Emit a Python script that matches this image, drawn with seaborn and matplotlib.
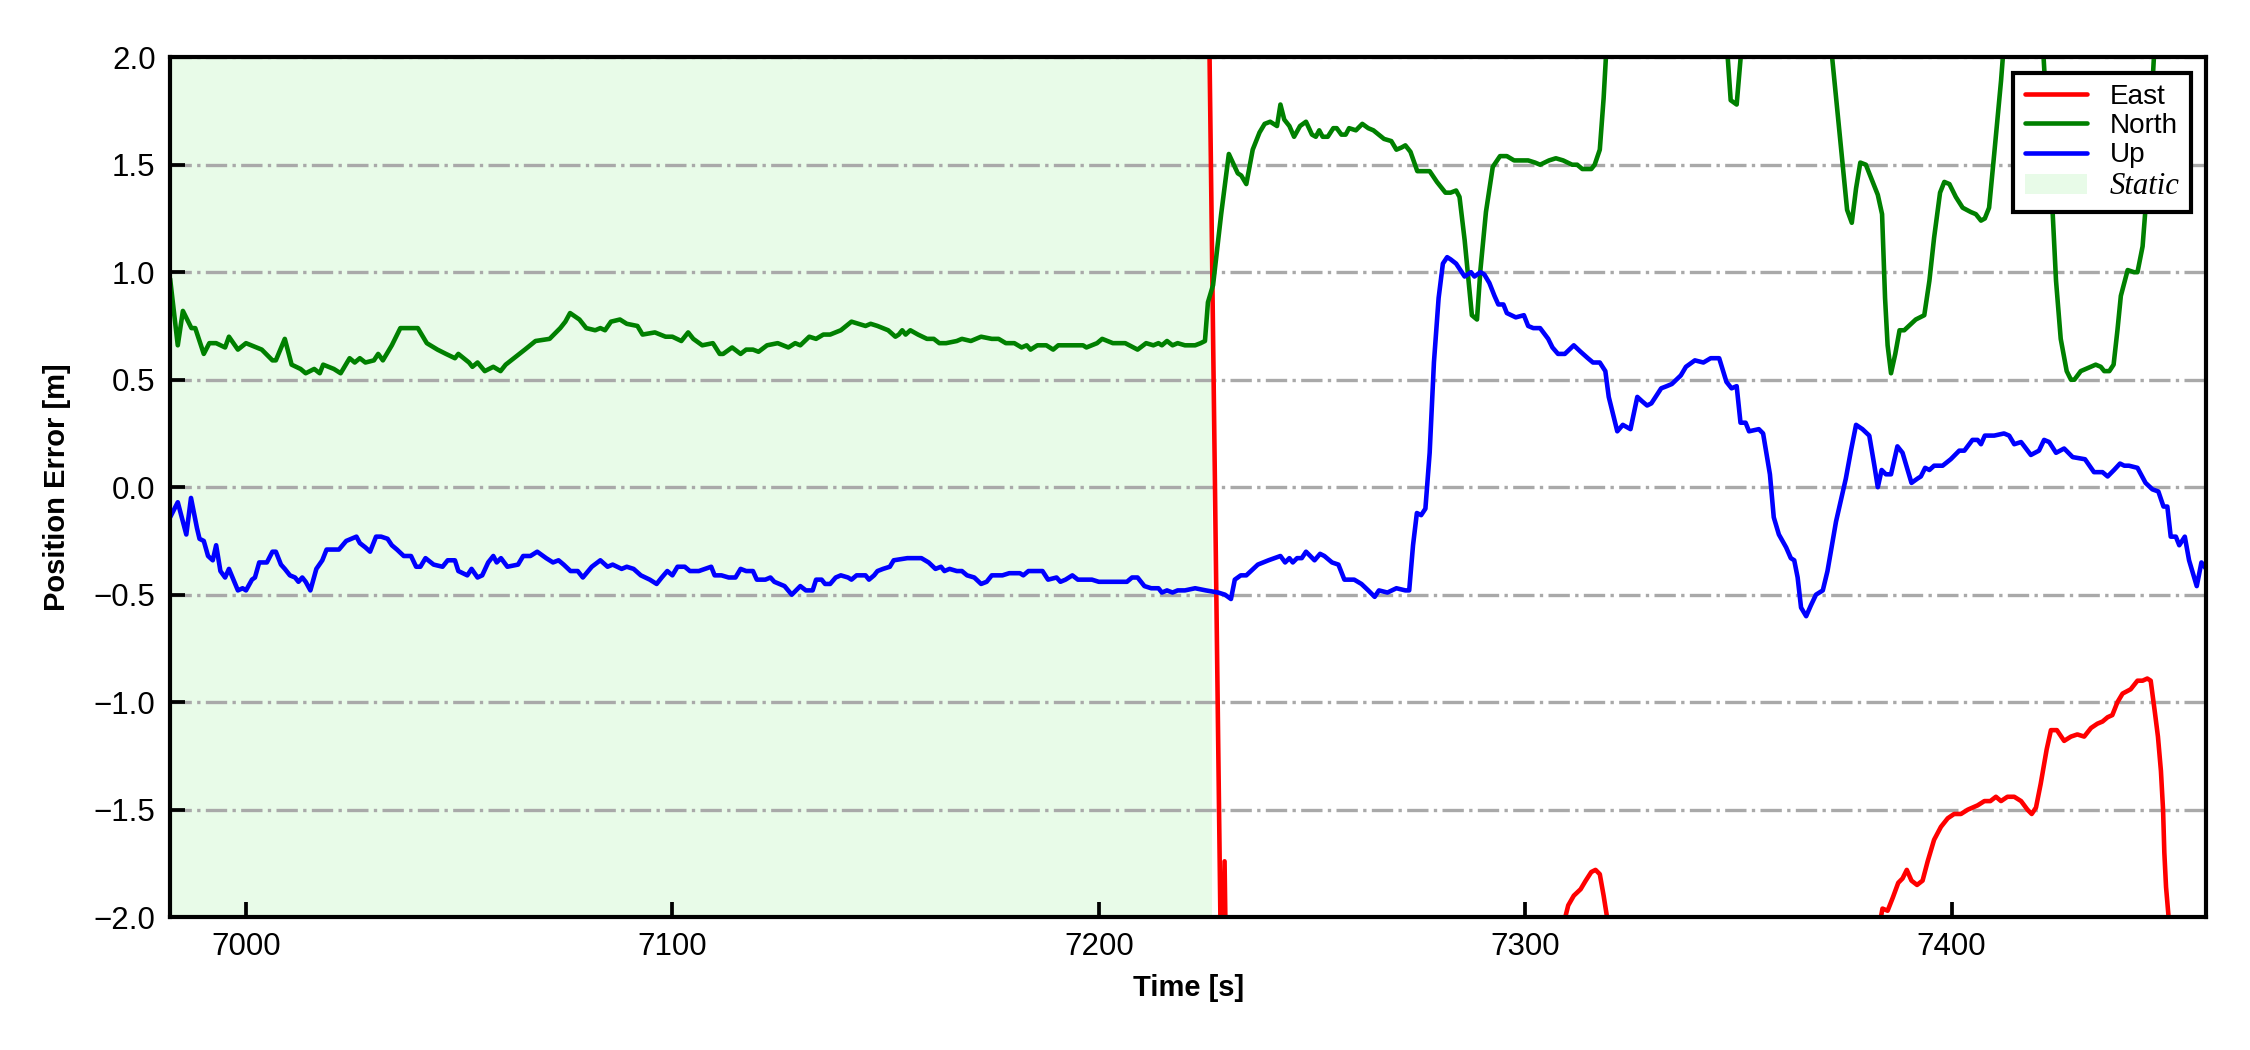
import numpy as np
import pandas as pd
import matplotlib
matplotlib.use("Agg")
import matplotlib.pyplot as plt
import seaborn as sns
from matplotlib.lines import Line2D
from matplotlib.patches import Patch

# ---------------- data (time [s], error [m]) ----------------
series_names = ["East", "North", "Up"]
series_colors = ["red", "green", "blue"]
static_label = "Static"
static_span = (6980.0, 7226.5)
x_limits = (6982.2, 7459.7)
y_limits = (-2.0, 2.0)
x_ticks = [7000, 7100, 7200, 7300, 7400]
y_ticks = [-2.0, -1.5, -1.0, -0.5, 0.0, 0.5, 1.0, 1.5, 2.0]

east_pts = [
    (6982.2, 2.6), (7225.6, 2.6), (7228.9, -2.6), (7229.5, -1.74), (7230.1, -2.6),
    (7307.5, -2.15), (7310.1, -1.945), (7311.4, -1.90), (7313.0, -1.87), (7314.2, -1.83),
    (7315.5, -1.79), (7316.5, -1.78), (7317.5, -1.80), (7318.4, -1.90), (7319.2, -2.0),
    (7320.5, -2.6), (7381.0, -2.6), (7382.5, -2.1), (7383.8, -1.96), (7385.0, -1.97),
    (7386.2, -1.91), (7387.5, -1.84), (7388.5, -1.82), (7389.5, -1.78), (7390.6, -1.83),
    (7391.9, -1.85), (7393.2, -1.83), (7394.4, -1.74), (7395.9, -1.64), (7397.5, -1.58),
    (7399.1, -1.54), (7400.6, -1.52), (7402.2, -1.52), (7403.8, -1.50), (7406.1, -1.48),
    (7407.7, -1.46), (7409.1, -1.46), (7410.4, -1.44), (7411.6, -1.46), (7413.1, -1.44),
    (7414.7, -1.44), (7416.3, -1.46), (7417.8, -1.50), (7418.8, -1.52), (7419.8, -1.49),
    (7420.9, -1.38), (7422.3, -1.22), (7423.3, -1.13), (7424.7, -1.13), (7426.4, -1.18),
    (7428.0, -1.16), (7429.5, -1.15), (7431.1, -1.16), (7432.7, -1.12), (7434.2, -1.10),
    (7435.4, -1.09), (7436.6, -1.07), (7437.7, -1.06), (7438.9, -1.00), (7440.1, -0.96),
    (7442.0, -0.94), (7443.6, -0.90), (7444.8, -0.90), (7445.9, -0.89), (7446.7, -0.90),
    (7447.7, -1.05), (7448.4, -1.16), (7449.1, -1.32), (7449.6, -1.50), (7449.9, -1.70),
    (7450.3, -1.86), (7450.9, -2.0), (7451.5, -2.5), (7459.7, -2.5),
]

north_pts = [
    (6982.2, 0.97), (6984.0, 0.66), (6985.2, 0.82), (6987.2, 0.74), (6988.1, 0.74),
    (6990.1, 0.62), (6991.4, 0.67), (6993.0, 0.67), (6995.1, 0.65), (6996.0, 0.70),
    (6998.1, 0.64), (7000.0, 0.67), (7003.7, 0.64), (7006.2, 0.59), (7007.0, 0.59),
    (7009.1, 0.69), (7010.7, 0.57), (7012.8, 0.55), (7014.0, 0.53), (7016.0, 0.55),
    (7017.3, 0.53), (7018.1, 0.57), (7020.6, 0.55), (7022.2, 0.53), (7024.3, 0.60),
    (7025.5, 0.58), (7026.7, 0.60), (7028.0, 0.58), (7030.0, 0.59), (7031.0, 0.62),
    (7032.1, 0.59), (7034.2, 0.66), (7036.2, 0.74), (7038.3, 0.74), (7040.3, 0.74),
    (7042.4, 0.67), (7044.9, 0.64), (7046.9, 0.62), (7049.0, 0.60), (7049.8, 0.62),
    (7052.3, 0.58), (7053.1, 0.56), (7054.3, 0.58), (7056.0, 0.54), (7058.0, 0.56),
    (7059.7, 0.54), (7060.9, 0.57), (7065.4, 0.64), (7067.9, 0.68), (7071.2, 0.69),
    (7073.7, 0.74), (7074.9, 0.77), (7076.0, 0.81), (7078.2, 0.78), (7079.8, 0.74),
    (7081.9, 0.73), (7083.1, 0.74), (7084.2, 0.73), (7085.6, 0.77), (7087.7, 0.78),
    (7089.3, 0.76), (7091.8, 0.75), (7093.0, 0.71), (7095.9, 0.72), (7098.4, 0.70),
    (7100.0, 0.70), (7102.1, 0.68), (7103.7, 0.72), (7104.9, 0.69), (7107.0, 0.66),
    (7109.5, 0.67), (7111.1, 0.62), (7111.9, 0.62), (7114.0, 0.65), (7116.0, 0.62),
    (7117.3, 0.64), (7118.9, 0.64), (7120.2, 0.63), (7122.2, 0.66), (7124.7, 0.67),
    (7127.2, 0.65), (7128.8, 0.67), (7130.0, 0.66), (7132.1, 0.70), (7133.7, 0.69),
    (7135.4, 0.71), (7137.0, 0.71), (7139.5, 0.73), (7142.0, 0.77), (7145.3, 0.75),
    (7146.5, 0.76), (7148.1, 0.75), (7150.6, 0.73), (7152.3, 0.70), (7153.1, 0.71),
    (7153.9, 0.73), (7154.7, 0.71), (7155.8, 0.73), (7157.6, 0.71), (7159.7, 0.69),
    (7161.3, 0.69), (7162.6, 0.67), (7164.2, 0.67), (7166.7, 0.68), (7167.9, 0.69),
    (7170.0, 0.68), (7172.4, 0.70), (7174.9, 0.69), (7176.5, 0.69), (7178.2, 0.67),
    (7180.2, 0.67), (7181.9, 0.65), (7183.1, 0.66), (7184.0, 0.64), (7185.6, 0.66),
    (7187.7, 0.66), (7189.3, 0.64), (7190.5, 0.66), (7193.0, 0.66), (7196.3, 0.66),
    (7197.1, 0.65), (7199.6, 0.67), (7200.8, 0.69), (7203.3, 0.67), (7206.2, 0.67),
    (7209.1, 0.64), (7211.1, 0.67), (7212.8, 0.66), (7214.0, 0.67), (7214.8, 0.66),
    (7216.0, 0.68), (7217.3, 0.66), (7218.5, 0.67), (7220.2, 0.66), (7222.6, 0.66),
    (7223.9, 0.67), (7224.9, 0.68), (7225.6, 0.86), (7226.8, 0.94), (7228.7, 1.27),
    (7230.5, 1.55), (7232.6, 1.46), (7233.4, 1.45), (7234.6, 1.41), (7236.1, 1.57),
    (7237.7, 1.65), (7238.9, 1.69), (7240.2, 1.70), (7241.8, 1.68), (7242.6, 1.78),
    (7243.5, 1.71), (7244.7, 1.68), (7245.8, 1.63), (7247.2, 1.68), (7248.6, 1.70),
    (7250.0, 1.64), (7250.9, 1.63), (7251.7, 1.66), (7252.5, 1.63), (7253.7, 1.63),
    (7255.0, 1.67), (7255.8, 1.67), (7256.9, 1.64), (7257.9, 1.64), (7258.7, 1.67),
    (7260.3, 1.66), (7261.8, 1.69), (7263.2, 1.67), (7264.4, 1.66), (7266.9, 1.62),
    (7268.6, 1.61), (7269.8, 1.57), (7271.0, 1.58), (7271.9, 1.59), (7273.1, 1.56),
    (7274.7, 1.47), (7276.4, 1.47), (7277.6, 1.47), (7279.3, 1.42), (7281.3, 1.37),
    (7282.5, 1.37), (7283.8, 1.38), (7284.6, 1.35), (7285.8, 1.15), (7287.5, 0.80),
    (7288.7, 0.78), (7289.5, 1.01), (7290.8, 1.28), (7292.4, 1.49), (7294.1, 1.54),
    (7295.7, 1.54), (7297.4, 1.52), (7299.0, 1.52), (7300.7, 1.52), (7302.3, 1.51),
    (7303.5, 1.50), (7305.6, 1.52), (7307.2, 1.53), (7308.9, 1.52), (7311.0, 1.50),
    (7312.2, 1.50), (7313.4, 1.48), (7315.5, 1.48), (7316.3, 1.50), (7317.5, 1.57),
    (7318.4, 1.81), (7319.5, 2.2), (7321.0, 2.5), (7345.5, 2.5), (7346.8, 2.2),
    (7348.2, 1.80), (7349.6, 1.78), (7351.4, 2.2), (7352.5, 2.5), (7369.5, 2.5),
    (7370.5, 2.3), (7375.5, 1.29), (7376.6, 1.23), (7377.6, 1.39), (7378.6, 1.51),
    (7379.9, 1.50), (7381.1, 1.44), (7382.7, 1.36), (7383.7, 1.27), (7384.4, 0.88),
    (7385.0, 0.66), (7385.8, 0.53), (7386.8, 0.62), (7387.8, 0.73), (7388.9, 0.73),
    (7390.5, 0.76), (7391.6, 0.78), (7393.6, 0.80), (7394.8, 0.96), (7395.9, 1.16),
    (7397.3, 1.37), (7398.3, 1.42), (7399.5, 1.41), (7401.0, 1.35), (7402.6, 1.30),
    (7404.5, 1.28), (7405.7, 1.27), (7406.9, 1.24), (7407.8, 1.25), (7408.8, 1.30),
    (7410.0, 1.55), (7411.6, 1.89), (7412.8, 2.2), (7414.0, 2.5), (7420.0, 2.5),
    (7421.0, 2.2), (7422.5, 1.68), (7423.7, 1.28), (7424.5, 0.96), (7425.6, 0.69),
    (7427.0, 0.54), (7428.0, 0.50), (7428.8, 0.50), (7430.3, 0.54), (7433.8, 0.57),
    (7435.0, 0.56), (7435.8, 0.54), (7437.0, 0.54), (7438.0, 0.57), (7438.9, 0.73),
    (7439.7, 0.89), (7441.3, 1.01), (7442.8, 1.00), (7443.6, 1.00), (7444.8, 1.12),
    (7445.5, 1.30), (7446.3, 1.62), (7447.1, 1.87), (7448.0, 2.2), (7449.5, 2.5),
    (7459.7, 2.5),
]

up_pts = [
    (6982.2, -0.14), (6984.0, -0.07), (6986.0, -0.22), (6987.1, -0.05), (6988.5, -0.19),
    (6989.1, -0.24), (6990.1, -0.25), (6991.1, -0.32), (6992.2, -0.34), (6993.0, -0.27),
    (6994.0, -0.39), (6995.1, -0.42), (6996.0, -0.38), (6998.1, -0.48), (6999.2, -0.47),
    (7000.0, -0.48), (7001.4, -0.43), (7002.1, -0.42), (7003.1, -0.35), (7004.9, -0.35),
    (7006.2, -0.30), (7007.0, -0.30), (7008.2, -0.36), (7009.1, -0.38), (7010.3, -0.41),
    (7011.5, -0.42), (7012.3, -0.44), (7013.2, -0.42), (7014.0, -0.44), (7015.1, -0.48),
    (7016.5, -0.38), (7017.9, -0.34), (7018.9, -0.29), (7020.6, -0.29), (7021.8, -0.29),
    (7023.5, -0.25), (7025.9, -0.23), (7026.7, -0.26), (7028.0, -0.28), (7029.1, -0.30),
    (7030.5, -0.23), (7031.7, -0.23), (7033.2, -0.24), (7034.2, -0.27), (7035.4, -0.29),
    (7037.0, -0.32), (7038.7, -0.32), (7039.9, -0.37), (7040.9, -0.37), (7042.1, -0.33),
    (7044.0, -0.36), (7046.1, -0.37), (7047.3, -0.34), (7049.0, -0.34), (7049.8, -0.39),
    (7051.9, -0.41), (7052.9, -0.38), (7054.3, -0.42), (7055.4, -0.41), (7056.8, -0.35),
    (7058.0, -0.32), (7058.8, -0.35), (7059.8, -0.33), (7061.3, -0.37), (7063.8, -0.36),
    (7065.0, -0.32), (7066.7, -0.32), (7068.3, -0.30), (7070.4, -0.33), (7072.0, -0.35),
    (7073.3, -0.34), (7074.5, -0.36), (7076.1, -0.39), (7077.8, -0.39), (7079.0, -0.42),
    (7081.1, -0.37), (7083.1, -0.34), (7084.8, -0.37), (7086.0, -0.36), (7088.1, -0.38),
    (7089.3, -0.37), (7090.9, -0.38), (7092.6, -0.41), (7094.7, -0.43), (7096.3, -0.45),
    (7097.5, -0.42), (7098.8, -0.39), (7100.0, -0.41), (7101.2, -0.37), (7102.9, -0.37),
    (7104.1, -0.39), (7106.2, -0.39), (7109.1, -0.37), (7109.9, -0.41), (7111.5, -0.41),
    (7113.2, -0.42), (7114.8, -0.42), (7116.0, -0.38), (7117.3, -0.39), (7118.9, -0.39),
    (7119.8, -0.43), (7121.8, -0.43), (7123.0, -0.42), (7123.9, -0.44), (7126.3, -0.46),
    (7128.0, -0.50), (7130.0, -0.46), (7131.3, -0.48), (7132.9, -0.48), (7133.7, -0.43),
    (7135.0, -0.43), (7135.8, -0.45), (7137.0, -0.45), (7138.3, -0.42), (7139.5, -0.41),
    (7141.2, -0.42), (7142.0, -0.43), (7143.2, -0.41), (7145.3, -0.41), (7146.1, -0.43),
    (7147.3, -0.41), (7148.1, -0.39), (7149.4, -0.38), (7151.0, -0.37), (7151.9, -0.34),
    (7155.1, -0.33), (7156.8, -0.33), (7158.4, -0.33), (7160.1, -0.35), (7161.7, -0.38),
    (7163.0, -0.37), (7163.8, -0.39), (7165.0, -0.38), (7166.7, -0.39), (7167.9, -0.39),
    (7169.1, -0.41), (7170.8, -0.42), (7172.4, -0.45), (7173.7, -0.44), (7174.9, -0.41),
    (7177.4, -0.41), (7179.0, -0.40), (7181.5, -0.40), (7182.3, -0.41), (7183.5, -0.39),
    (7184.8, -0.39), (7186.8, -0.39), (7188.1, -0.43), (7190.1, -0.42), (7191.0, -0.44),
    (7192.2, -0.43), (7193.8, -0.41), (7195.1, -0.43), (7197.1, -0.43), (7198.4, -0.43),
    (7200.0, -0.44), (7202.1, -0.44), (7203.3, -0.44), (7204.9, -0.44), (7206.6, -0.44),
    (7207.8, -0.42), (7209.1, -0.42), (7210.7, -0.46), (7212.3, -0.47), (7214.0, -0.47),
    (7214.8, -0.49), (7216.0, -0.48), (7217.3, -0.49), (7218.5, -0.48), (7220.2, -0.48),
    (7222.6, -0.47), (7225.1, -0.48), (7228.0, -0.49), (7229.6, -0.50), (7231.0, -0.52),
    (7231.9, -0.43), (7233.3, -0.41), (7234.6, -0.41), (7237.3, -0.36), (7239.8, -0.34),
    (7242.6, -0.32), (7243.7, -0.35), (7244.7, -0.33), (7245.5, -0.35), (7246.5, -0.33),
    (7247.6, -0.33), (7248.6, -0.30), (7250.6, -0.34), (7251.9, -0.31), (7252.9, -0.32),
    (7254.7, -0.35), (7256.2, -0.36), (7257.6, -0.43), (7259.9, -0.43), (7261.6, -0.45),
    (7263.2, -0.48), (7264.7, -0.51), (7265.7, -0.48), (7267.7, -0.49), (7269.8, -0.47),
    (7271.9, -0.48), (7272.8, -0.48), (7273.7, -0.27), (7274.6, -0.12), (7275.6, -0.13),
    (7276.6, -0.10), (7277.6, 0.16), (7278.6, 0.58), (7279.7, 0.88), (7280.7, 1.04),
    (7281.7, 1.07), (7282.5, 1.06), (7283.8, 1.04), (7285.8, 0.98), (7287.3, 1.00),
    (7288.1, 0.98), (7289.5, 1.00), (7290.4, 0.99), (7291.6, 0.95), (7292.8, 0.89),
    (7293.7, 0.85), (7294.9, 0.85), (7295.7, 0.81), (7297.8, 0.79), (7299.7, 0.80),
    (7300.7, 0.75), (7301.9, 0.74), (7303.5, 0.74), (7305.4, 0.69), (7306.4, 0.65),
    (7307.7, 0.62), (7309.3, 0.62), (7311.4, 0.66), (7313.0, 0.63), (7314.7, 0.60),
    (7315.9, 0.58), (7317.5, 0.58), (7318.8, 0.54), (7319.6, 0.42), (7321.6, 0.26),
    (7322.9, 0.29), (7324.7, 0.27), (7326.3, 0.42), (7327.4, 0.40), (7328.6, 0.38),
    (7329.6, 0.39), (7331.9, 0.46), (7333.2, 0.47), (7334.4, 0.48), (7336.5, 0.52),
    (7337.7, 0.56), (7339.8, 0.59), (7341.8, 0.58), (7343.5, 0.60), (7345.5, 0.60),
    (7347.2, 0.49), (7348.4, 0.46), (7349.6, 0.47), (7350.5, 0.30), (7351.7, 0.30),
    (7352.5, 0.26), (7354.8, 0.27), (7355.8, 0.25), (7357.4, 0.06), (7358.3, -0.14),
    (7359.5, -0.22), (7361.2, -0.28), (7362.3, -0.33), (7363.1, -0.34), (7363.9, -0.42),
    (7364.7, -0.56), (7365.9, -0.60), (7367.0, -0.55), (7368.2, -0.50), (7369.8, -0.48),
    (7370.9, -0.39), (7372.9, -0.16), (7375.2, 0.04), (7376.4, 0.17), (7377.6, 0.29),
    (7379.1, 0.27), (7380.7, 0.24), (7381.9, 0.10), (7382.7, 0.00), (7383.6, 0.08),
    (7384.6, 0.06), (7385.8, 0.06), (7387.3, 0.19), (7388.5, 0.16), (7389.7, 0.08),
    (7390.6, 0.02), (7392.0, 0.04), (7392.8, 0.05), (7393.8, 0.09), (7394.8, 0.08),
    (7395.9, 0.10), (7397.9, 0.10), (7399.8, 0.13), (7401.8, 0.17), (7403.0, 0.17),
    (7404.9, 0.22), (7406.1, 0.22), (7406.9, 0.20), (7407.8, 0.24), (7410.0, 0.24),
    (7412.3, 0.25), (7413.5, 0.24), (7414.7, 0.20), (7416.3, 0.21), (7418.6, 0.15),
    (7420.5, 0.17), (7421.7, 0.22), (7422.9, 0.21), (7424.5, 0.16), (7426.4, 0.18),
    (7428.4, 0.14), (7431.3, 0.13), (7433.4, 0.07), (7435.4, 0.07), (7436.6, 0.05),
    (7438.1, 0.08), (7439.5, 0.11), (7440.5, 0.10), (7441.6, 0.10), (7443.6, 0.09),
    (7445.5, 0.02), (7447.1, -0.01), (7448.5, -0.02), (7449.7, -0.09), (7450.6, -0.09),
    (7451.4, -0.23), (7452.6, -0.23), (7453.4, -0.27), (7454.7, -0.23), (7455.7, -0.34),
    (7457.5, -0.46), (7458.6, -0.35), (7459.7, -0.38),
]

# ---------------- build long table ----------------
frames = []
for name, pts in zip(series_names, [east_pts, north_pts, up_pts]):
    arr = np.array(pts)
    frames.append(pd.DataFrame({"Time": arr[:, 0], "Error": arr[:, 1], "Series": name}))
df = pd.concat(frames, ignore_index=True)

# ---------------- style ----------------
sns.set_style("ticks")
plt.rcParams["font.family"] = ["Liberation Sans", "DejaVu Sans"]
plt.rcParams["axes.unicode_minus"] = True
plt.rcParams["text.color"] = "black"
plt.rcParams["axes.labelcolor"] = "black"
plt.rcParams["xtick.color"] = "black"
plt.rcParams["ytick.color"] = "black"

fig = plt.figure(figsize=(7.5, 3.5), dpi=300)
ax = fig.add_axes([0.0756, 0.1265, 0.9049, 0.819])
ax.set_facecolor("white")

ax.axvspan(static_span[0], static_span[1], color="lightgreen", alpha=0.2, lw=0, zorder=0)

palette = dict(zip(series_names, series_colors))
sns.lineplot(data=df, x="Time", y="Error", hue="Series", hue_order=series_names,
             palette=palette, estimator=None, sort=False, legend=False,
             linewidth=1.1, ax=ax, zorder=3)

ax.set_xlim(*x_limits)
ax.set_ylim(*y_limits)
ax.set_xticks(x_ticks)
ax.set_yticks(y_ticks)

ax.yaxis.grid(True, linestyle="-.", color="darkgray", linewidth=0.8, zorder=1)
ax.xaxis.grid(False)
ax.set_axisbelow(False)

ax.tick_params(axis="both", direction="in", length=3.5, width=0.9, labelsize=7.5,
               colors="black", labelcolor="black", top=False, right=False, pad=3.5)
for s in ax.spines.values():
    s.set_visible(True)
    s.set_linewidth(1.0)
    s.set_color("black")
    s.set_zorder(5)

ax.set_xlabel("Time [s]", fontsize=7, fontweight="bold", color="black")
ax.set_ylabel("Position Error [m]", fontsize=7, fontweight="bold", color="black")
ax.xaxis.set_label_coords(0.5, -0.0666)
ax.yaxis.set_label_coords(-0.0486, 0.5)

handles = [Line2D([0], [0], color=c, lw=1.1) for c in series_colors]
handles.append(Patch(facecolor="lightgreen", alpha=0.2, edgecolor="none"))
labels = series_names + [static_label]
leg = ax.legend(handles, labels, loc="upper right", fontsize=6.7, frameon=True,
                fancybox=False, framealpha=1.0, edgecolor="black",
                handlelength=2.25, labelspacing=0.12, borderpad=0.4,
                handletextpad=0.8, borderaxespad=0.55, labelcolor="black")
leg.get_frame().set_linewidth(1.0)
leg.set_zorder(10)
st = leg.get_texts()[3]
st.set_fontfamily(["Liberation Serif", "DejaVu Serif"])
st.set_fontstyle("italic")
st.set_fontsize(7.4)

fig.savefig("out.png", dpi=300)
